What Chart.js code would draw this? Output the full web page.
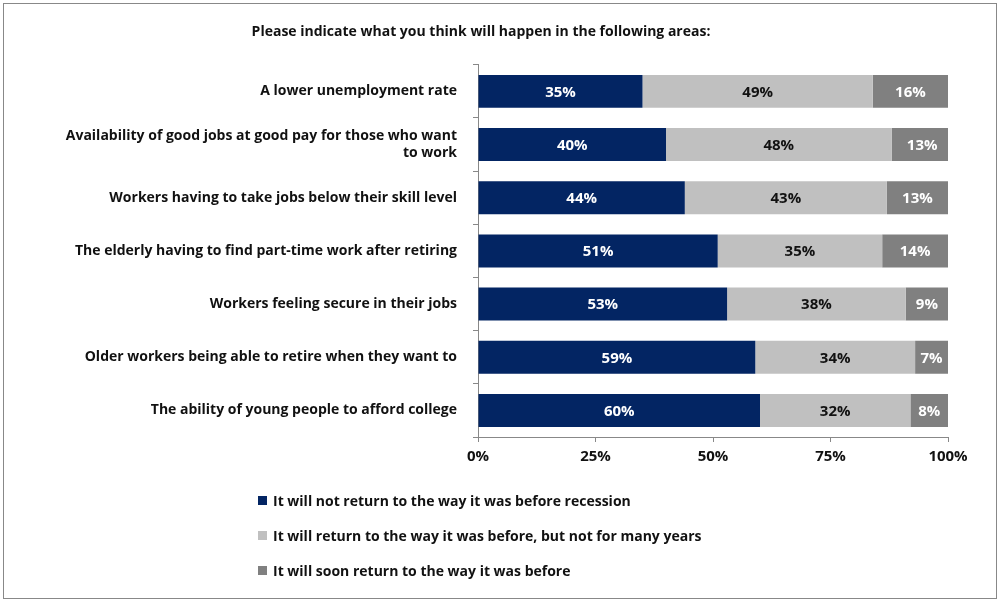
<!DOCTYPE html>
<html>
<head>
<meta charset="utf-8">
<script src="https://cdn.jsdelivr.net/npm/chart.js@4"></script>
<style>
  body { margin: 0; background: #fff; font-family: "Open Sans", sans-serif; }
  #frame { position: absolute; left: 3px; top: 3px; width: 992px; height: 594px; border: 1px solid #888; }
  #wrap { position: absolute; left: 0; top: 0; width: 1000px; height: 604px; }
  #legend { position: absolute; left: 258px; top: 483px; font-weight: bold; font-size: 14px; color: #111; }
  #legend div { height: 35px; display: flex; align-items: center; }
  #legend span.box { display: inline-block; width: 9px; height: 9px; margin-right: 6px; }
</style>
</head>
<body>
<div id="frame"></div>
<div id="wrap"><canvas id="chart"></canvas></div>
<div id="legend"></div>
<script>
const categories = [
  'A lower unemployment rate',
  ['Availability of good jobs at good pay for those who want', 'to work'],
  'Workers having to take jobs below their skill level',
  'The elderly having to find part-time work after retiring',
  'Workers feeling secure in their jobs',
  'Older workers being able to retire when they want to',
  'The ability of young people to afford college'
];
const notReturn = [35, 40, 44, 51, 53, 59, 60];
const returnLater = [49, 48, 43, 35, 38, 34, 32];
const returnSoon = [16, 13, 13, 14, 9, 7, 8];
const seriesNames = [
  'It will not return to the way it was before recession',
  'It will return to the way it was before, but not for many years',
  'It will soon return to the way it was before'
];
const colors = ['#032563', '#c0c0c0', '#808080'];
const labelColors = ['#fff', '#111', '#fff'];
const fontFam = '"Open Sans", sans-serif';

const valueLabels = {
  id: 'valueLabels',
  afterDatasetsDraw(chart) {
    const ctx = chart.ctx;
    ctx.save();
    ctx.font = 'bold 15px ' + fontFam;
    ctx.textAlign = 'center';
    ctx.textBaseline = 'middle';
    chart.data.datasets.forEach((ds, i) => {
      chart.getDatasetMeta(i).data.forEach((bar, j) => {
        ctx.fillStyle = labelColors[i];
        ctx.fillText(ds.data[j] + '%', (bar.x + bar.base) / 2, bar.y + 1);
      });
    });
    ctx.restore();
  }
};

const datasets = [notReturn, returnLater, returnSoon].map((d, i) => ({
  label: seriesNames[i], data: d, backgroundColor: colors[i],
  categoryPercentage: 0.62, barPercentage: 1
}));

new Chart(document.getElementById('chart'), {
  type: 'bar',
  data: { labels: categories, datasets },
  plugins: [valueLabels],
  options: {
    indexAxis: 'y',
    responsive: true,
    maintainAspectRatio: false,
    animation: false,
    layout: { padding: { top: 16, left: 14, right: 52, bottom: 132 } },
    plugins: {
      legend: { display: false },
      tooltip: { enabled: false },
      title: {
        display: true,
        text: 'Please indicate what you think will happen in the following areas:',
        font: { family: fontFam, size: 14, weight: 'bold' }, color: '#111',
        padding: { top: 8, bottom: 24 }
      }
    },
    scales: {
      x: {
        stacked: true, min: 0, max: 100,
        ticks: { stepSize: 25, callback: v => v + '%', color: '#111', font: { family: fontFam, size: 15, weight: 'bold' }, padding: 6 },
        grid: { drawOnChartArea: false, tickLength: 5, color: '#888' },
        border: { color: '#888' }
      },
      y: {
        stacked: true,
        afterFit(s) { s.width = 464; },
        ticks: { color: '#111', font: { family: fontFam, size: 14, weight: 'bold' }, padding: 16 },
        grid: { drawOnChartArea: false, offset: true, tickLength: 5, color: '#888' },
        border: { color: '#888' }
      }
    }
  }
});

document.getElementById('legend').innerHTML = seriesNames.map((n, i) =>
  '<div><span class="box" style="background:' + colors[i] + '"></span>' + n + '</div>').join('');
</script>
</body>
</html>
